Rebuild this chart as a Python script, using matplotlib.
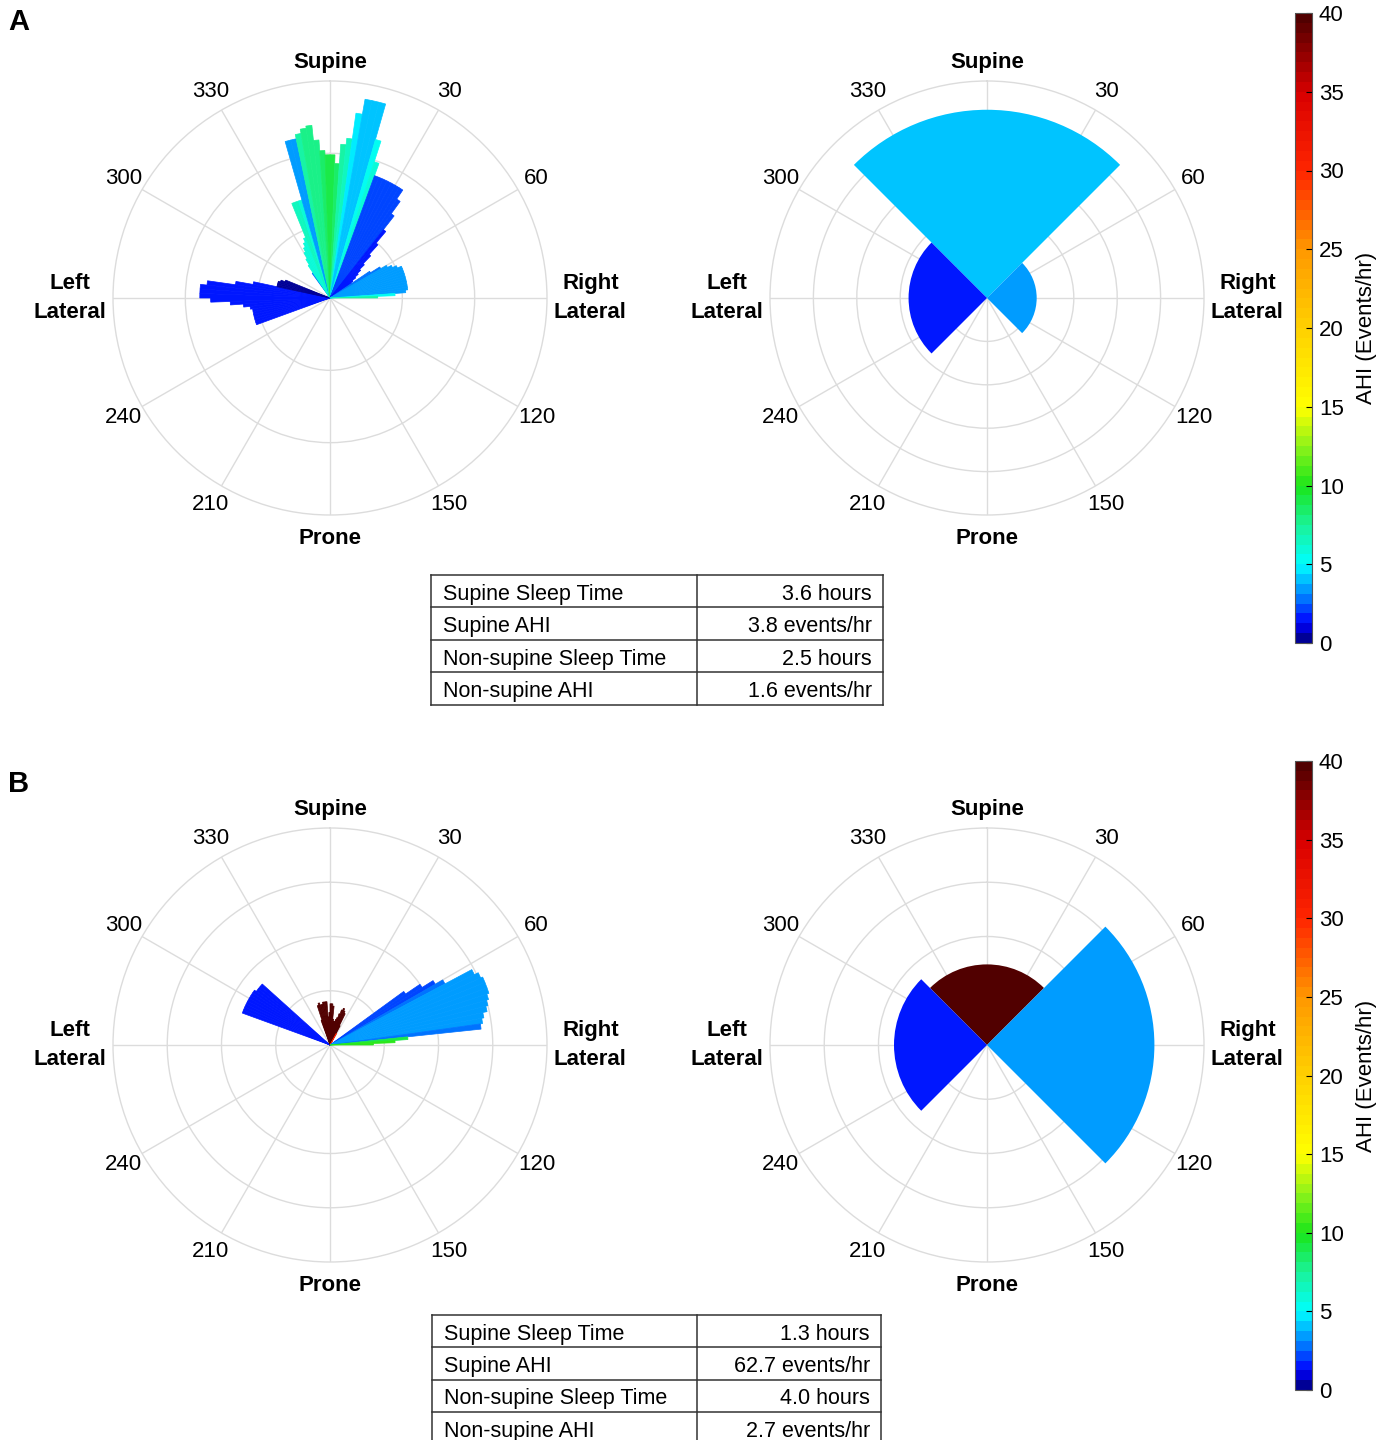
import numpy as np
import matplotlib
matplotlib.use('Agg')
import matplotlib.pyplot as plt
from matplotlib.colors import LinearSegmentedColormap, ListedColormap, Normalize
from matplotlib.cm import ScalarMappable

plt.rcParams['font.family'] = ['Liberation Sans', 'DejaVu Sans']

# colour scale (AHI, events/hr) - stretched jet
AHI_ANCHORS = [0, 1.25, 3, 5, 7.5, 10, 12.5, 15, 20, 25, 30, 35, 40]
ANCHOR_COLOURS = [(0, 0, 0.45), (0, 0, 1), (0, 0.5, 1), (0, 1, 1),
                  (0.1, 0.95, 0.6), (0.1, 0.9, 0.1), (0.55, 0.95, 0.1),
                  (1, 1, 0), (1, 0.82, 0), (1, 0.6, 0), (1, 0.15, 0),
                  (0.85, 0, 0), (0.3, 0, 0)]

# panel A: 2 degree histogram (bin start, degrees), relative time, AHI per bin
A_HIST_THETA = [250, 252, 254, 256, 258, 260, 262, 264, 266, 268, 270, 272,
                274, 276, 278, 280, 282, 284, 286, 288, 290,
                324, 326, 328, 330, 332, 334, 336, 338, 340, 342, 344, 346,
                348, 350, 352, 354, 356, 358,
                0, 2, 4, 6, 8, 10, 12, 14, 16, 18, 20, 22, 24, 26, 28, 30,
                32, 34, 36, 38, 40, 42, 44, 46, 48, 50, 52, 54, 56, 58, 60,
                62, 64, 66, 68, 70, 72, 74, 76, 78, 80, 82, 84, 86, 88]
A_HIST_R = [.36, .36, .36, .36, .36, .36, .37, .40, .46, .55, .60, .60,
            .60, .57, .44, .36, .25, .25, .25, .24, .22,
            .14, .18, .21, .24, .26, .28, .30, .47, .47, .47, .75, .75,
            .77, .79, .80, .73, .68, .66,
            .66, .62, .71, .74, .86, .93, .93, .93, .76, .66, .60, .60,
            .60, .60, .60, .60, .60, .55, .48, .40, .33, .27, .22, .19,
            .17, .15, .13, .12, .22, .27, .30, .32, .34, .36, .36, .36,
            .36, .36, .36, .36, .36, .36, .35, .30, .22]
A_HIST_AHI = [1.6, 1.6, 1.6, 1.7, 1.7, 1.6, 1.6, 1.5, 1.5, 1.5, 1.4, 1.4,
              1.4, 1.5, 1.5, 1.5, 0.2, 0.2, 0.1, 0.1, 0.2,
              2.5, 6, 6, 6, 6, 6.2, 6.2, 6.5, 6.5, 6, 3.4, 3.4,
              7, 7.5, 8, 8, 8.5, 9,
              9, 8.5, 7, 6.5, 4.8, 4.3, 4.3, 4.2, 5.5, 6, 2.2, 2.1,
              2.0, 2.0, 2.1, 2.2, 2.1, 2.0, 1.9, 1.8, 1.7, 1.6, 1.6, 1.5,
              1.5, 1.5, 1.5, 1.7, 3.0, 3.1, 3.2, 3.3, 3.4, 3.4, 3.5, 3.6,
              3.7, 3.7, 3.6, 3.5, 3.4, 3.4, 3.3, 5.5, 7]

# panel B histogram
B_HIST_THETA = [290, 292, 294, 296, 298, 300, 302, 304, 306, 308, 310,
                340, 342, 344, 346, 348, 350, 352, 354, 356, 358,
                0, 2, 4, 6, 8, 10, 12, 14, 16, 18, 20, 22, 24, 26, 28,
                54, 56, 58, 60, 62, 64, 66, 68, 70, 72, 74, 76, 78, 80,
                82, 84, 86, 88]
B_HIST_R = [.43, .43, .43, .43, .43, .43, .43, .43, .42, .42, .42,
            .12, .19, .20, .19, .19, .20, .20, .20, .13, .15,
            .19, .19, .18, .12, .11, .11, .12, .13, .15, .17, .18, .17,
            .16, .10, .06,
            .42, .50, .56, .60, .74, .76, .77, .77, .77, .76, .75, .74,
            .72, .71, .70, .36, .30, .20]
B_HIST_AHI = [1.8, 1.8, 1.8, 1.8, 1.8, 1.8, 1.8, 1.8, 1.8, 1.8, 1.7,
              45, 45, 45, 45, 45, 45, 45, 45, 45, 45,
              45, 45, 45, 45, 45, 45, 45, 45, 45, 45, 45, 45, 45, 45, 30,
              1.9, 2.0, 2.4, 2.8, 3.6, 3.6, 3.6, 3.6, 3.6, 3.6, 3.6, 3.6,
              3.5, 3.5, 2.8, 9, 10, 10]

# position sectors: supine, left lateral, right lateral
SECTOR_CENTRES = [0, 270, 90]
A_SECTOR_HOURS = [3.6, 1.5, 0.95]
A_SECTOR_AHI = [4.3, 1.5, 3.6]
B_SECTOR_HOURS = [1.3, 1.5, 2.7]
B_SECTOR_AHI = [62.7, 1.8, 3.6]

TABLE_ROWS = ['Supine Sleep Time', 'Supine AHI', 'Non-supine Sleep Time', 'Non-supine AHI']
A_TABLE_VALUES = ['3.6 hours', '3.8 events/hr', '2.5 hours', '1.6 events/hr']
B_TABLE_VALUES = ['1.3 hours', '62.7 events/hr', '4.0 hours', '2.7 events/hr']

FS = 16
TABLE_FS = 15.5
W, H = 1388, 1440

# 64 discrete steps, each taking the colour at the middle of its interval
smooth = LinearSegmentedColormap.from_list(
    'ahi', list(zip(np.array(AHI_ANCHORS) / 40.0, ANCHOR_COLOURS)))
cmap = ListedColormap(smooth(np.linspace(0.5 / 64, 1 - 0.5 / 64, 64)))
norm = Normalize(0, 40, clip=True)

fig = plt.figure(figsize=(W / 100, H / 100), dpi=100)


def polar_axes(cx, cy, rad=217):
    return fig.add_axes([(cx - rad) / W, 1 - (cy + rad) / H, 2 * rad / W, 2 * rad / H],
                        projection='polar')


def setup_polar(ax, rmax, nrings):
    ax.set_theta_zero_location('N')
    ax.set_theta_direction(-1)
    ax.set_ylim(0, rmax)
    ax.set_thetagrids(np.arange(0, 360, 30), labels=[''] * 12)
    ax.set_rticks(np.linspace(0, rmax, nrings + 1)[1:-1])
    ax.set_yticklabels([])
    ax.set_axisbelow(True)
    ax.grid(color='#dcdcdc', linewidth=1.0)
    ax.spines['polar'].set_color('#dcdcdc')
    ax.spines['polar'].set_linewidth(1.0)
    ax.tick_params(length=0)

    for ang in [30, 60, 120, 150, 210, 240, 300, 330]:
        ax.text(np.deg2rad(ang), rmax * 1.1, str(ang), ha='center', va='center',
                fontsize=FS, clip_on=False)
    bold = dict(ha='center', va='center', fontsize=FS, fontweight='bold',
                clip_on=False, linespacing=1.45)
    ax.text(0, rmax * 1.085, 'Supine', **bold)
    ax.text(np.pi, rmax * 1.11, 'Prone', **bold)
    ax.text(np.deg2rad(90), rmax * 1.2, 'Right\nLateral', **bold)
    ax.text(np.deg2rad(270), rmax * 1.2, 'Left\nLateral', **bold)


def draw_hist(ax, theta, r, ahi):
    theta = np.array(theta) + 1.0
    cols = cmap(norm(ahi))
    ax.bar(np.deg2rad(theta), r, width=np.deg2rad(2), color=cols,
           edgecolor=cols, linewidth=0.5)


def draw_sectors(ax, hours, ahi):
    cols = cmap(norm(ahi))
    ax.bar(np.deg2rad(SECTOR_CENTRES), hours, width=np.deg2rad(90),
           color=cols, edgecolor='none')


def draw_table(x0, y0, x1, y1, split, values):
    tax = fig.add_axes([x0 / W, 1 - y1 / H, (x1 - x0) / W, (y1 - y0) / H])
    tax.set_xlim(0, 1)
    tax.set_ylim(4, 0)
    tax.axis('off')
    lc = '#333333'
    for yy in range(5):
        tax.plot([0, 1], [yy, yy], color=lc, lw=1.1, clip_on=False)
    for xx in [0, split, 1]:
        tax.plot([xx, xx], [0, 4], color=lc, lw=1.1, clip_on=False)
    for i, (name, val) in enumerate(zip(TABLE_ROWS, values)):
        tax.text(0.026, i + 0.6, name, ha='left', va='center', fontsize=TABLE_FS)
        tax.text(0.975, i + 0.6, val, ha='right', va='center', fontsize=TABLE_FS)


def draw_colorbar(top, bottom):
    cax = fig.add_axes([1295 / W, 1 - bottom / H, 17 / W, (bottom - top) / H])
    cb = fig.colorbar(ScalarMappable(norm=norm, cmap=cmap), cax=cax)
    cb.set_ticks(np.arange(0, 41, 5))
    cb.ax.tick_params(direction='in', length=4, width=0.8, labelsize=FS, pad=5)
    cb.outline.set_edgecolor('#555555')
    cb.outline.set_linewidth(0.8)
    cb.set_label('AHI (Events/hr)', fontsize=FS, labelpad=9)


# panel A
ax = polar_axes(330, 298)
setup_polar(ax, 1.0, 3)
draw_hist(ax, A_HIST_THETA, A_HIST_R, A_HIST_AHI)

ax = polar_axes(987, 298)
setup_polar(ax, 4.15, 5)
draw_sectors(ax, A_SECTOR_HOURS, A_SECTOR_AHI)

draw_table(431, 575, 883, 705, 0.5885, A_TABLE_VALUES)
draw_colorbar(13, 643)

# panel B
ax = polar_axes(330, 1045)
setup_polar(ax, 1.0, 4)
draw_hist(ax, B_HIST_THETA, B_HIST_R, B_HIST_AHI)

ax = polar_axes(987, 1045)
setup_polar(ax, 3.5, 4)
draw_sectors(ax, B_SECTOR_HOURS, B_SECTOR_AHI)

draw_table(432, 1315, 881, 1444, 0.590, B_TABLE_VALUES)
draw_colorbar(761, 1390)

fig.text(8 / W, 1 - 22 / H, 'A', fontsize=21, fontweight='bold', va='center', ha='left')
fig.text(8 / W, 1 - 784 / H, 'B', fontsize=21, fontweight='bold', va='center', ha='left')

fig.savefig('out.png', dpi=100)
